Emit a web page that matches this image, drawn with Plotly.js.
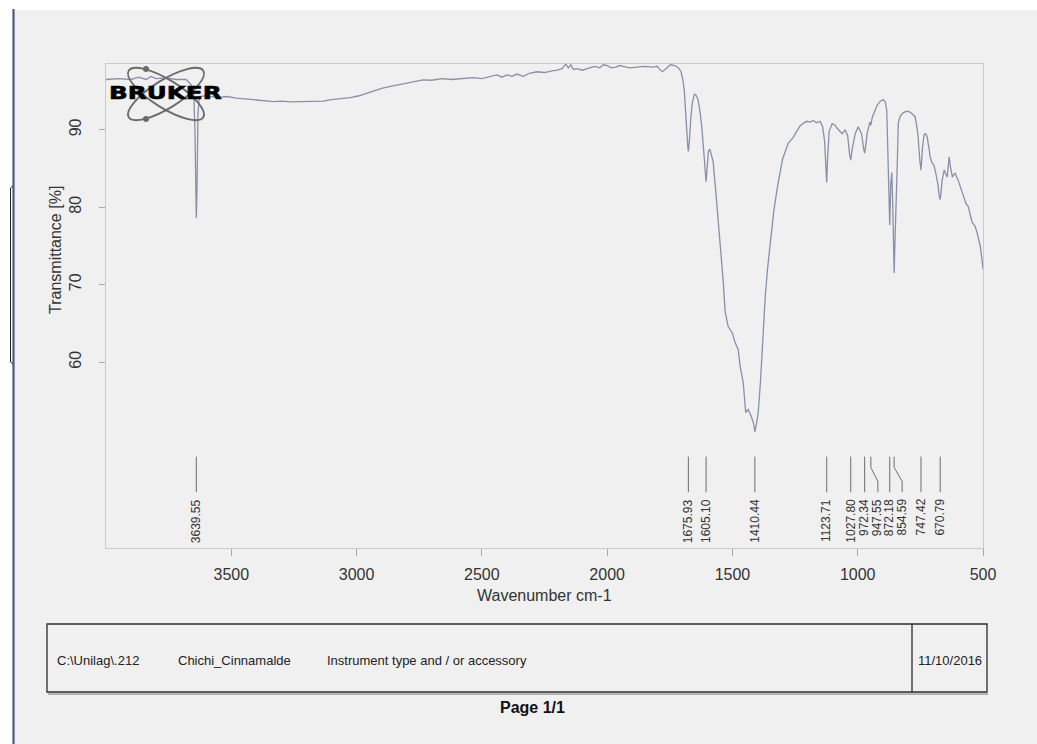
<!DOCTYPE html>
<html>
<head>
<meta charset="utf-8">
<script src="https://cdn.plot.ly/plotly-3.0.1.min.js"></script>
<style>
  html, body { margin: 0; padding: 0; background: #ffffff; }
  #chart { width: 1037px; height: 744px; }
</style>
</head>
<body>
<div id="chart"></div>
<script>
// IR spectrum of Chichi_Cinnamalde, transmittance vs wavenumber
const wavenumber = [
  4000, 3950, 3900, 3870, 3840, 3820, 3800, 3760, 3720, 3680, 3660, 3650, 3645, 3641, 3639.55, 3637, 3633, 3628,
  3600, 3560, 3516, 3480, 3440, 3400, 3360, 3332, 3300, 3260, 3224, 3180, 3133, 3100, 3060, 3025, 2990, 2960,
  2930, 2900, 2865, 2820, 2780, 2734, 2700, 2660, 2620, 2580, 2534, 2500, 2470, 2440, 2420, 2400, 2380, 2360,
  2335, 2310, 2280, 2250, 2220, 2199, 2180, 2165, 2155, 2145, 2135, 2120, 2100, 2080, 2067, 2050, 2030, 2015,
  1999, 1985, 1965, 1950, 1936, 1910, 1880, 1850, 1820, 1800, 1790, 1780, 1765, 1748, 1730, 1715, 1705, 1698,
  1692, 1688, 1682, 1678, 1675.93, 1672, 1666, 1660, 1652, 1646, 1638, 1630, 1622, 1614, 1608, 1605.10, 1601,
  1596, 1590, 1584, 1577, 1565, 1549, 1537, 1529, 1517, 1501, 1490, 1477, 1469, 1457, 1453, 1447, 1437, 1425,
  1415, 1410.44, 1403, 1397, 1388, 1381, 1375, 1369, 1360, 1349, 1335, 1321, 1300, 1277, 1258, 1240, 1230,
  1215, 1202, 1190, 1178, 1165, 1150, 1140, 1132, 1126, 1123.71, 1120, 1114, 1102, 1090, 1082, 1070, 1062,
  1050, 1040, 1033, 1027.80, 1022, 1010, 998, 985, 976, 972.34, 968, 962, 955, 952, 947.55, 942, 922, 910,
  898, 890, 884, 880, 876, 872.18, 868, 864, 860, 857, 854.59, 851, 847, 842, 838, 830, 818, 805, 791, 780,
  771, 763, 759, 752, 747.42, 742, 735, 729, 723, 715, 711, 703, 697, 691, 685, 680, 675, 670.79, 666, 663,
  655, 648, 643, 638, 635, 630, 622, 615, 611, 605, 599, 590, 579, 568, 559, 550, 543, 537, 531, 522, 511,
  505, 500
];
const transmittance = [
  96.5, 96.6, 96.5, 96.8, 96.5, 96.9, 96.6, 96.7, 96.5, 96.5, 95.8, 94.8, 90.0, 80.5, 78.6, 82.0, 92.0, 94.3,
  94.4, 94.2, 94.3, 94.1, 94.0, 93.9, 93.8, 93.65, 93.7, 93.6, 93.65, 93.7, 93.7, 93.9, 94.0, 94.15, 94.4, 94.75,
  95.1, 95.35, 95.6, 95.9, 96.2, 96.45, 96.4, 96.6, 96.5, 96.6, 96.75, 96.6, 96.9, 97.1, 96.8, 97.1, 96.9, 97.2,
  96.9, 97.3, 97.5, 97.4, 97.6, 97.7, 97.9, 98.5, 98.0, 98.4, 97.8, 97.9, 97.7, 97.9, 98.0, 98.2, 98.0, 98.4,
  98.3, 98.0, 98.1, 98.3, 98.2, 98.0, 98.1, 98.2, 98.1, 98.2, 97.8, 97.5, 97.9, 98.4, 98.3, 98.0, 97.5, 96.5,
  95.0, 92.5, 89.5, 87.8, 87.2, 88.5, 91.5, 93.5, 94.6, 94.5, 94.0, 92.5, 90.3, 87.5, 84.5, 83.3, 85.0,
  87.2, 87.5, 86.8, 85.9, 81.5, 75.6, 70.5, 66.5, 64.6, 63.8, 62.6, 61.6, 59.4, 57.4, 55.2, 53.5, 53.9, 53.0,
  52.0, 51.0, 52.2, 53.5, 57.5, 61.6, 65.5, 68.5, 72.0, 75.5, 79.5, 82.5, 86.2, 88.3, 89.0, 90.0, 90.5,
  90.9, 91.1, 91.0, 91.2, 90.9, 91.1, 90.4, 88.5, 84.5, 83.2, 86.5, 89.8, 90.8, 90.6, 90.2, 89.8, 89.5,
  90.0, 89.2, 87.0, 86.1, 87.5, 89.5, 90.4, 89.5, 87.5, 87.0, 88.0, 89.6, 90.5, 91.0, 90.6, 91.6, 93.2, 93.7,
  93.9, 93.6, 92.5, 86.0, 79.0, 77.7, 83.0, 84.5, 80.0, 75.0, 71.5, 76.0, 82.0, 85.7, 90.9, 91.8, 92.2, 92.4, 92.3, 92.0,
  91.7, 90.2, 89.1, 86.0, 84.8, 87.5, 89.4, 89.5, 89.1, 87.5, 86.5, 85.7, 85.5, 84.8, 84.0, 83.0, 81.5, 81.0, 82.5, 83.5,
  84.8, 84.2, 83.9, 85.5, 86.5, 85.2, 83.9, 84.3, 84.4, 83.9, 83.5, 82.6, 81.4, 80.5, 80.1, 79.0, 78.0, 77.8, 77.5, 76.5, 75.0,
  73.5, 72.0
];

// Picked peaks, printed below the spectrum
const peakWavenumbers = [3639.55, 1675.93, 1605.10, 1410.44, 1123.71, 1027.80, 972.34, 947.55, 872.18, 854.59, 747.42, 670.79];
const peakLabels = peakWavenumbers.map(v => v.toFixed(2));

const xTickValues = [3500, 3000, 2500, 2000, 1500, 1000, 500];
const yTickValues = [60, 70, 80, 90];

const footerFields = ['C:\\Unilag\\.212', 'Chichi_Cinnamalde', 'Instrument type and / or accessory'];
const footerDate = '11/10/2016';
const pageLabel = 'Page 1/1';

// ---- page geometry (pixels) ----
const W = 1037, H = 744;
const M = { l: 106, r: 54, t: 64, b: 196 };
const PX = x => (x - M.l) / (W - M.l - M.r);
const PY = y => (H - M.b - y) / (H - M.t - M.b);

const FONT = 'Liberation Sans, Arial, sans-serif';
const INK = '#333333';

// labels that sit too close to a neighbour are pushed right, with a bent leader
const labelNudge = { '947.55': 7, '854.59': 8 };
const leaderTop = 47.8, leaderBend1 = 46.4, leaderBend2 = 44.6, leaderBottom = 43.2, labelTop = 42.6;

const shapes = [];
const annotations = [];

peakWavenumbers.forEach((wn, i) => {
  const nudge = labelNudge[peakLabels[i]] || 0;
  if (nudge) {
    shapes.push({
      type: 'path', xref: 'x', yref: 'y', xsizemode: 'pixel', xanchor: wn,
      path: `M0,${leaderTop} L0,${leaderBend1} L${nudge},${leaderBend2} L${nudge},${leaderBottom}`,
      line: { color: '#6d6d6d', width: 1 }
    });
  } else {
    shapes.push({
      type: 'line', xref: 'x', yref: 'y', x0: wn, x1: wn, y0: leaderTop, y1: leaderBottom,
      line: { color: '#6d6d6d', width: 1 }
    });
  }
  annotations.push({
    x: wn, y: labelTop, xref: 'x', yref: 'y', xshift: nudge,
    text: peakLabels[i], showarrow: false, textangle: -90,
    xanchor: 'center', yanchor: 'top',
    font: { family: FONT, size: 12, color: INK }
  });
});

// axis titles
annotations.push({
  xref: 'paper', yref: 'paper', x: PX(55), y: PY(250), text: 'Transmittance [%]',
  textangle: -90, showarrow: false, xanchor: 'center', yanchor: 'middle',
  font: { family: FONT, size: 16, color: INK }
});
annotations.push({
  xref: 'paper', yref: 'paper', x: PX(544), y: PY(595), text: 'Wavenumber cm-1',
  showarrow: false, xanchor: 'center', yanchor: 'middle',
  font: { family: FONT, size: 16, color: INK }
});

// vendor mark
annotations.push({
  xref: 'paper', yref: 'paper', x: PX(107), y: PY(93), text: 'BRUKER',
  showarrow: false, xanchor: 'left', yanchor: 'middle',
  font: { family: 'DejaVu Sans, sans-serif', size: 17, color: '#000000', weight: 'bold' }
});

// footer strip
const footerX = [55, 176, 325];
footerFields.forEach((t, i) => {
  annotations.push({
    xref: 'paper', yref: 'paper', x: PX(footerX[i]), y: PY(660), text: t,
    showarrow: false, xanchor: 'left', yanchor: 'middle',
    font: { family: FONT, size: 13, color: '#222' }
  });
});
annotations.push({
  xref: 'paper', yref: 'paper', x: PX(950), y: PY(660), text: footerDate,
  showarrow: false, xanchor: 'center', yanchor: 'middle',
  font: { family: FONT, size: 13, color: '#222' }
});
annotations.push({
  xref: 'paper', yref: 'paper', x: PX(532), y: PY(707), text: pageLabel,
  showarrow: false, xanchor: 'center', yanchor: 'middle',
  font: { family: FONT, size: 16, color: '#111', weight: 'bold' }
});

// footer box
shapes.push({
  type: 'rect', xref: 'paper', yref: 'paper', x0: PX(47), x1: PX(987), y0: PY(692), y1: PY(624),
  line: { color: '#2b2b2b', width: 1.3 }, fillcolor: 'rgba(0,0,0,0)'
});
shapes.push({
  type: 'line', xref: 'paper', yref: 'paper', x0: PX(48), x1: PX(988), y0: PY(694), y1: PY(694),
  line: { color: '#7a7a7a', width: 1.2 }
});
shapes.push({
  type: 'line', xref: 'paper', yref: 'paper', x0: PX(912), x1: PX(912), y0: PY(692), y1: PY(624),
  line: { color: '#2b2b2b', width: 1.3 }
});

// page edges: white margin, bound edge and clip mark
shapes.push({
  type: 'rect', xref: 'paper', yref: 'paper', x0: PX(0), x1: PX(W), y0: PY(10), y1: PY(0),
  line: { width: 0 }, fillcolor: '#ffffff', layer: 'below'
});
shapes.push({
  type: 'rect', xref: 'paper', yref: 'paper', x0: PX(0), x1: PX(13), y0: PY(H), y1: PY(0),
  line: { width: 0 }, fillcolor: '#ffffff', layer: 'below'
});
shapes.push({
  type: 'line', xref: 'paper', yref: 'paper', x0: PX(13.5), x1: PX(13.5), y0: PY(H), y1: PY(9),
  line: { color: '#4e5d7c', width: 2.2 }
});
shapes.push({
  type: 'path', xref: 'paper', yref: 'paper',
  path: `M${PX(13)},${PY(186)} L${PX(10.5)},${PY(188)} L${PX(10.5)},${PY(362)} L${PX(13)},${PY(364)}`,
  line: { color: '#222', width: 1 }
});

// orbit emblem drawn as a small inline SVG
const emblem = '<svg xmlns="http://www.w3.org/2000/svg" width="92" height="60" viewBox="0 0 92 60">' +
  '<g fill="none" stroke="#6b6b6b" stroke-width="1.8">' +
  '<ellipse cx="47" cy="30" rx="44" ry="14" transform="rotate(32 47 30)"/>' +
  '<ellipse cx="47" cy="30" rx="44" ry="14" transform="rotate(-32 47 30)"/></g>' +
  '<circle cx="27" cy="5" r="3" fill="#6b6b6b"/><circle cx="27" cy="55" r="3" fill="#6b6b6b"/></svg>';

const trace = {
  type: 'scatter', mode: 'lines',
  x: wavenumber, y: transmittance,
  line: { color: '#8a8fa8', width: 1.3 },
  hoverinfo: 'skip'
};

const axisCommon = {
  showgrid: false, zeroline: false, showline: true, mirror: true,
  linecolor: '#cacaca', linewidth: 1,
  ticks: 'outside', tickcolor: '#a8a8a8', tickwidth: 1,
  tickfont: { family: FONT, size: 16, color: INK }
};

const layout = {
  width: W, height: H,
  margin: M,
  paper_bgcolor: '#f0f0f0',
  plot_bgcolor: '#f0f0f0',
  showlegend: false,
  xaxis: Object.assign({}, axisCommon, {
    range: [4000, 500], tickmode: 'array', tickvals: xTickValues,
    ticklen: 7, ticklabelstandoff: 5
  }),
  yaxis: Object.assign({}, axisCommon, {
    range: [36.0, 98.5], tickmode: 'array', tickvals: yTickValues,
    ticklen: 6, tickangle: -90, ticklabelstandoff: 12
  }),
  shapes: shapes,
  annotations: annotations,
  images: [{
    source: 'data:image/svg+xml;charset=utf-8,' + encodeURIComponent(emblem),
    xref: 'paper', yref: 'paper', x: PX(119), y: PY(64),
    sizex: 92 / (W - M.l - M.r), sizey: 60 / (H - M.t - M.b),
    xanchor: 'left', yanchor: 'top', sizing: 'stretch', layer: 'above'
  }]
};

Plotly.newPlot('chart', [trace], layout, { staticPlot: true }).then(gd => {
  // widen the vendor lettering to its extended face
  gd.querySelectorAll('.annotation-text').forEach(t => {
    if (t.textContent === 'BRUKER') {
      t.style.transformBox = 'fill-box';
      t.style.transformOrigin = 'left center';
      t.style.transform = 'scaleX(1.45)';
      t.style.stroke = '#000';
      t.style.strokeWidth = '0.6px';
    }
  });
});
</script>
</body>
</html>
